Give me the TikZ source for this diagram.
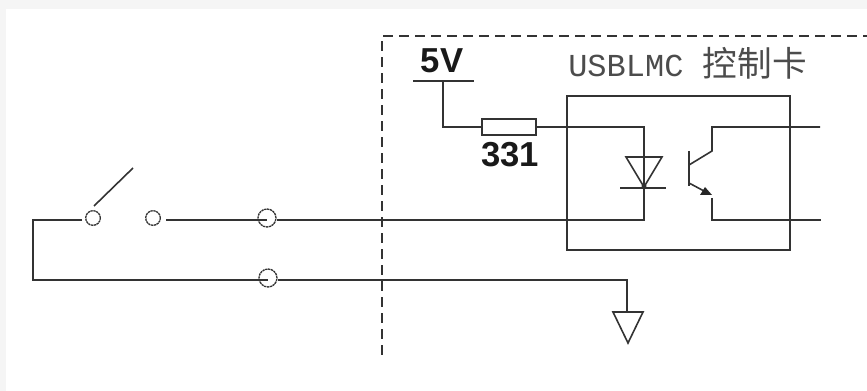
\documentclass[tikz,border=0pt]{standalone}
\usepackage{fontspec}
\setmainfont{Liberation Sans}
\setmonofont{Liberation Mono}
\newfontfamily\cjk{Noto Sans CJK SC}
\definecolor{margin}{HTML}{F5F5F5}
\tikzset{
   wire/.style={line width=1.2pt, black!80},
   frame/.style={line width=1.1pt, black!80, dash pattern=on 7.5pt off 4.5pt},
   terminal/.style={draw=black!80, line width=1pt, dash pattern=on 1.7pt off 0.5pt, circle, inner sep=0pt, minimum size=#1},
   labelbold/.style={font=\bfseries\fontsize{26}{26}\selectfont, inner sep=0pt, text=black!90},
   title/.style={font=\fontsize{24}{24}\selectfont, inner sep=0pt, text=black!70},
   resistor/.style={draw=black!80, line width=1.2pt, fill=white, minimum width=40.5pt, minimum height=12pt, inner sep=0pt},
   cardbox/.style={draw=black!80, line width=1.2pt, minimum width=167pt, minimum height=115.5pt, inner sep=0pt}
}
\begin{document}
\begin{tikzpicture}[x=0.75pt,y=-0.75pt]
   \useasboundingbox (0,0) rectangle (867,391);
   \fill[margin] (0,0) rectangle (867,9);
   \fill[margin] (0,0) rectangle (6,391);

   % dashed outline of the card
   \coordinate (cornerbottom) at (382,355);
   \coordinate (corner) at (382,36);
   \coordinate (cornerright) at (867,36);
   \draw[frame] (cornerbottom) -- (corner) -- (cornerright);

   % nodes
   \node[cardbox] (card) at (678.5,173) {};
   \node[resistor] (res) at (509,127) {};
   \node[labelbold, anchor=base] (vcc) at (442,73) {5V};
   \node[labelbold, anchor=base] (value) at (510,167) {331};
   \node[title, anchor=base west] (cardname) at (568,77) {\ttfamily USBLMC \cjk\fontsize{26}{26}\selectfont 控制卡};
   \node[terminal=11pt] (swa) at (93,218) {};
   \node[terminal=11pt] (swb) at (153,218) {};
   \node[terminal=13.5pt] (ta) at (267,218) {};
   \node[terminal=13.5pt] (tb) at (268,278) {};

   \coordinate (barl) at (413,81);
   \coordinate (barr) at (474,81);
   \coordinate (barm) at (443,81);
   \coordinate (anode) at (644,127);
   \coordinate (cathode) at (644,220);
   \coordinate (leftup) at (33,220);
   \coordinate (leftdown) at (33,280);
   \coordinate (swaend) at (82,220);
   \coordinate (swbend) at (166,220);
   \coordinate (gnd) at (627,280);
   \coordinate (gndtop) at (627,312);
   \coordinate (lever) at (133,168);
   \coordinate (leverfoot) at (94,206);

   % 5V feed and led branch
   \draw[wire] (barl) -- (barr);
   \draw[wire] (barm) |- (res.west);
   \draw[wire] (res.east) -- (anode) -- (cathode) -- (ta.east |- cathode);
   \draw[wire] (ta.center |- cathode) -- (swbend);

   % diode
   \draw[wire] (626,157) -- (662,157) -- (644,187) -- cycle;
   \draw[wire] (620,188) -- (666,188);
   \fill[black!80] (644,186) circle (2.5);

   % transistor
   \draw[wire] (689,151) -- (689,186);
   \draw[wire] (820,127) -- (712,127) -- (712,151) -- (689,165);
   \draw[wire] (689,183) -- (704,191);
   \fill[black!85] (712,195) -- (700,195) -- (705,187) -- cycle;
   \draw[wire] (712,198) -- (712,220) -- (821,220);

   % switch and return line
   \draw[wire] (swaend) -- (leftup) -- (leftdown) -- (tb.center |- leftdown);
   \draw[wire] (leverfoot) -- (lever);
   \draw[wire] (tb.east |- gnd) -- (gnd) -- (gndtop);

   % ground
   \draw[wire] (613,312) -- (643,312) -- (628,343) -- cycle;
\end{tikzpicture}
\end{document}
